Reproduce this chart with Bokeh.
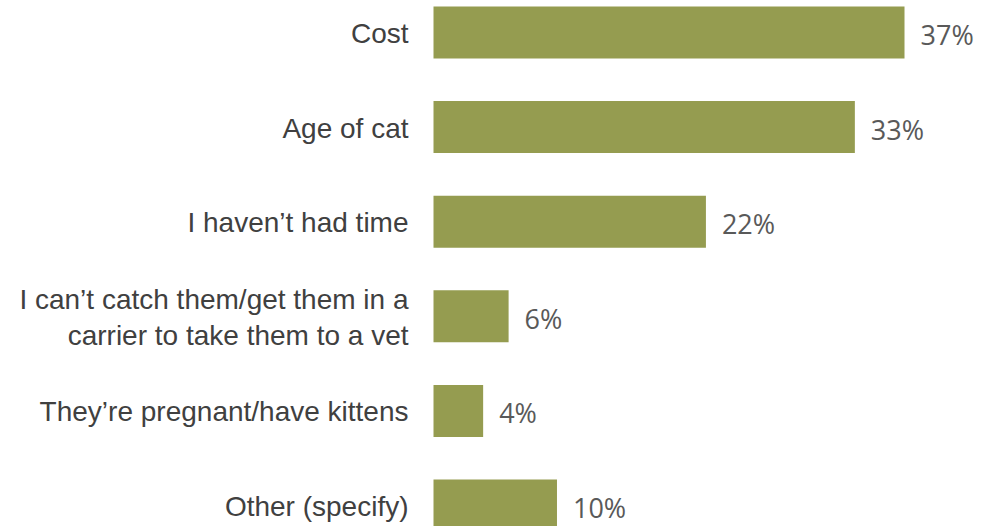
from bokeh.plotting import figure
from bokeh.models import ColumnDataSource, Range1d
from bokeh.core.properties import value
from bokeh.embed import file_html
from bokeh.resources import INLINE

categories = [
    "Cost",
    "Age of cat",
    "I haven\u2019t had time",
    "I can\u2019t catch them/get them in a\ncarrier to take them to a vet",
    "They\u2019re pregnant/have kittens",
    "Other (specify)",
]
values = [37.0, 33.1, 21.4, 5.9, 3.9, 9.7]
value_labels = ["37%", "33%", "22%", "6%", "4%", "10%"]

n = len(categories)
ypos = [n - 1 - i for i in range(n)]

src = ColumnDataSource(dict(y=ypos, v=values, cat=categories, lab=value_labels, zero=[0] * n))

W, H = 991, 526
p = figure(width=W, height=H, output_backend="svg", toolbar_location=None,
           min_border=0, min_border_left=0, min_border_right=0,
           min_border_top=0, min_border_bottom=0)
x0 = 433
scale = 12.73
p.x_range = Range1d(-x0 / scale, (W - x0) / scale)
row = 94.6
top_c, bot_c = 32, 505
p.y_range = Range1d(-(H - bot_c) / row, (n - 1) + top_c / row)

p.hbar(y="y", left=0, right="v", height=0.55, source=src,
       fill_color="#959C50", line_color=None)

p.text(x="zero", y="y", text="cat", source=src, x_offset=-25, y_offset=1,
       text_align="right", text_baseline="middle",
       text_font=value("Liberation Sans"), text_font_size="28px",
       text_color="#404040", text_line_height=1.15)

p.text(x="v", y="y", text="lab", source=src, x_offset=16, y_offset=2,
       text_align="left", text_baseline="middle",
       text_font=value("Open Sans"), text_font_size="27px",
       text_color="#595959")

p.axis.visible = False
p.grid.visible = False
p.outline_line_color = None
p.background_fill_color = "white"
p.border_fill_color = "white"

open("out.html", "w").write(file_html(p, INLINE))
